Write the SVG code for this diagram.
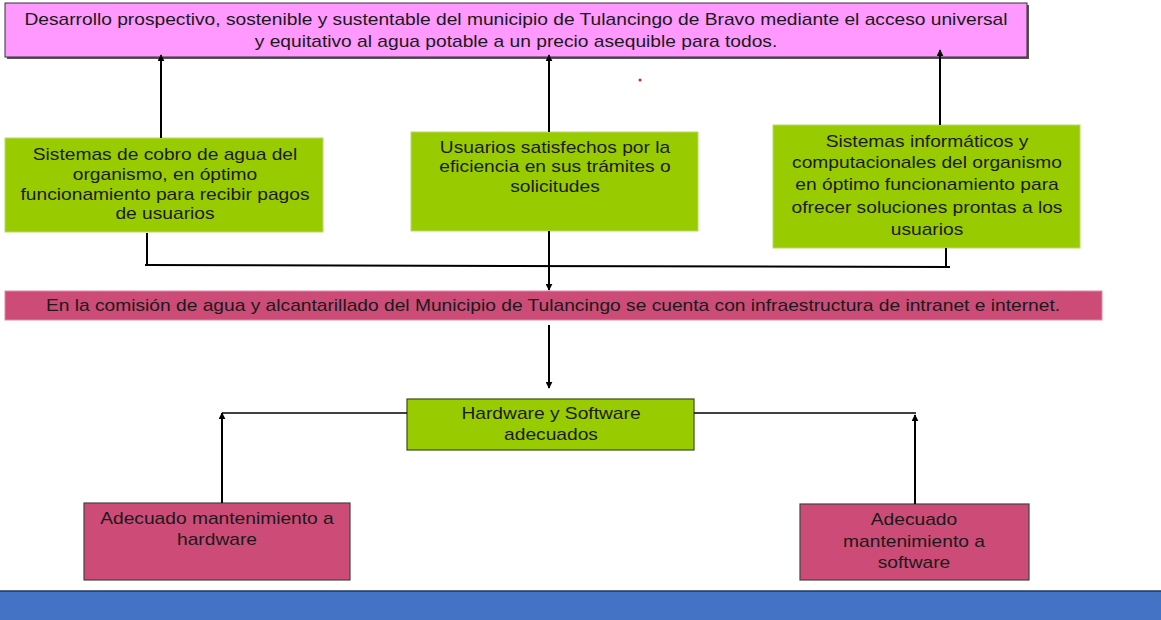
<svg xmlns="http://www.w3.org/2000/svg" width="1161" height="620" viewBox="0 0 1161 620">
<defs>
<marker id="ah" viewBox="0 0 10 10" refX="9" refY="5" markerWidth="7" markerHeight="7" markerUnits="userSpaceOnUse" orient="auto">
<path d="M0,0 L10,5 L0,10 z" fill="#000"/>
</marker>
<style>
text{font-family:"Liberation Sans",Arial,sans-serif;font-size:16px;fill:#1a1a1a;text-anchor:middle}
.g{fill:#99CC00;stroke:#b8d86a;stroke-width:1}
.gd{fill:#99CC00;stroke:#3d4a1a;stroke-width:1.2}
.p{fill:#CC4C77;stroke:#444;stroke-width:1.2}
.c{stroke:#000;stroke-width:2;fill:none}
.c1{stroke:#000;stroke-width:1.5;fill:none}
</style>
</defs>
<rect x="0" y="0" width="1161" height="620" fill="#fff"/>
<g id="goal">
<rect x="7" y="5" width="1022" height="54" fill="#555"/>
<rect x="5" y="3" width="1022" height="54" fill="#FF99FF" stroke="#333" stroke-width="1"/>
<g transform="translate(516,0) scale(1.2,1)">
<text x="0" y="25">Desarrollo prospectivo, sostenible y sustentable del municipio de Tulancingo de Bravo mediante el acceso universal</text>
<text x="0" y="47">y equitativo al agua potable a un precio asequible para todos.</text>
</g>
</g>
<circle cx="640" cy="80" r="1.5" fill="#e02020"/>
<g id="cobro">
<rect class="g" x="5" y="138" width="318" height="94"/>
<g transform="translate(165,0) scale(1.2,1)">
<text x="0" y="160">Sistemas de cobro de agua del</text>
<text x="0" y="180">organismo, en óptimo</text>
<text x="0" y="200">funcionamiento para recibir pagos</text>
<text x="0" y="219">de usuarios</text>
</g>
</g>
<g id="usuarios">
<rect class="g" x="411" y="132" width="287" height="99"/>
<g transform="translate(555,0) scale(1.2,1)">
<text x="0" y="153">Usuarios satisfechos por la</text>
<text x="0" y="172">eficiencia en sus trámites o</text>
<text x="0" y="192">solicitudes</text>
</g>
</g>
<g id="sistemas">
<rect class="g" x="773" y="125" width="307" height="123"/>
<g transform="translate(927,0) scale(1.2,1)">
<text x="0" y="147">Sistemas informáticos y</text>
<text x="0" y="168">computacionales del organismo</text>
<text x="0" y="190">en óptimo funcionamiento para</text>
<text x="0" y="213">ofrecer soluciones prontas a los</text>
<text x="0" y="235">usuarios</text>
</g>
</g>
<g id="comision">
<rect x="5" y="291" width="1097" height="29" fill="#CC4C77" stroke="#d98aa5" stroke-width="1"/>
<g transform="translate(553,0) scale(1.2,1)">
<text x="0" y="311">En la comisión de agua y alcantarillado del Municipio de Tulancingo se cuenta con infraestructura de intranet e internet.</text>
</g>
</g>
<g id="hwsw">
<rect class="gd" x="407" y="399" width="287" height="51"/>
<g transform="translate(551,0) scale(1.2,1)">
<text x="0" y="419">Hardware y Software</text>
<text x="0" y="440">adecuados</text>
</g>
</g>
<g id="mhw">
<rect class="p" x="84" y="503" width="266" height="77"/>
<g transform="translate(217,0) scale(1.2,1)">
<text x="0" y="524">Adecuado mantenimiento a</text>
<text x="0" y="545">hardware</text>
</g>
</g>
<g id="msw">
<rect class="p" x="800" y="504" width="229" height="76"/>
<g transform="translate(914,0) scale(1.2,1)">
<text x="0" y="525">Adecuado</text>
<text x="0" y="547">mantenimiento a</text>
<text x="0" y="568">software</text>
</g>
</g>
<g id="footer">
<rect x="0" y="591" width="1161" height="29" fill="#4472C4"/>
<line x1="0" y1="591" x2="1161" y2="591" stroke="#1f3763" stroke-width="1.5"/>
</g>
<g id="connectors">
<line class="c" x1="161" y1="138" x2="161" y2="55" marker-end="url(#ah)"/>
<line class="c" x1="549" y1="132" x2="549" y2="55" marker-end="url(#ah)"/>
<line class="c" x1="940" y1="125" x2="940" y2="50" marker-end="url(#ah)"/>
<line class="c" x1="147" y1="233" x2="147" y2="265"/>
<line class="c" x1="145" y1="265" x2="950" y2="267"/>
<line class="c" x1="946" y1="248" x2="946" y2="267"/>
<line class="c" x1="549" y1="231" x2="549" y2="290" marker-end="url(#ah)"/>
<line class="c" x1="549" y1="325" x2="549" y2="388" marker-end="url(#ah)"/>
<line class="c1" x1="407" y1="413" x2="222" y2="413"/>
<line class="c" x1="222" y1="503" x2="222" y2="413" marker-end="url(#ah)"/>
<line class="c1" x1="694" y1="413" x2="916" y2="413"/>
<line class="c" x1="915" y1="504" x2="915" y2="415" marker-end="url(#ah)"/>
</g>
</svg>
